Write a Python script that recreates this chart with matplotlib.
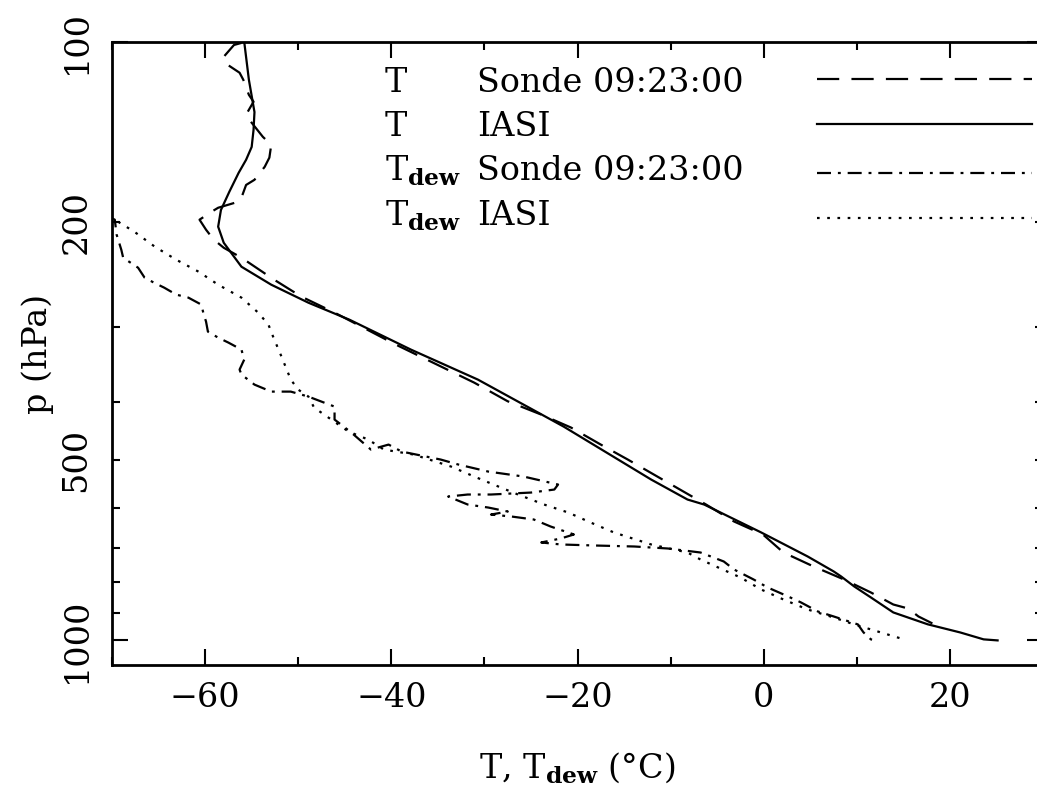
import numpy as np
import matplotlib
matplotlib.use('Agg')
import matplotlib.pyplot as plt
from matplotlib.ticker import LogLocator, FuncFormatter, MultipleLocator

# temperature, sonde (dashed)
t_sonde = [-56.1, -56.9, -58.0, -57.9, -56.3, -55.9, -55.3, -54.8, -55.6, -55.0,
           -53.8, -52.9, -53.1, -53.6, -54.7, -55.6, -56.1, -56.4, -58.6, -59.3,
           -60.6, -59.9, -59.1, -58.0, -56.1, -52.6, -49.7, -46.1, -39.5, -31.1,
           -27.5, -23.9, -20.7, -17.5, -14.6, -10.5, -6.2, -3.2, -0.1, 2.1,
           5.3, 8.6, 11.5, 13.9, 15.5, 16.6, 18.1]
p_sonde = [100.4, 101.2, 105.9, 108.4, 112.6, 115.7, 122.6, 125.9, 132.3, 136.5,
           144.1, 148.6, 156.1, 161.7, 170.0, 173.4, 182.1, 184.9, 189.3, 192.2,
           198.2, 206.0, 213.8, 220.8, 229.4, 249.6, 266.3, 283.4, 320.6, 371.0,
           398.6, 419.5, 441.0, 470.9, 498.8, 542.8, 593.0, 632.9, 665.3, 713.0,
           752.0, 791.0, 831.7, 871.0, 884.6, 912.0, 936.8]

# temperature, IASI (solid)
t_iasi = [-55.8, -55.3, -54.7, -54.8, -55.0, -55.6, -56.4, -57.4, -58.3, -58.6,
          -58.0, -56.1, -52.9, -48.9, -44.5, -37.9, -30.7, -21.5, -12.1, -8.2,
          -6.4, -0.3, 4.7, 7.5, 8.3, 9.7, 11.5, 13.9, 17.6, 21.1,
          23.6, 25.1]
p_iasi = [100.0, 115.7, 131.0, 140.3, 149.8, 157.4, 165.5, 178.0, 190.9, 203.6,
          216.6, 237.5, 254.5, 272.8, 291.2, 326.7, 366.7, 439.3, 538.6, 581.6,
          593.0, 660.0, 724.0, 767.0, 782.0, 812.5, 847.8, 898.0, 940.0, 970.0,
          996.0, 1000.0]

# dew point, sonde (dash-dot)
td_sonde = [-70.3, -69.7, -69.5, -69.0, -68.8, -67.7, -67.2, -66.5, -65.5, -64.4,
            -63.1, -61.8, -60.4, -60.2, -59.9, -59.7, -58.6, -57.5, -56.1, -55.8,
            -56.3, -56.1, -54.7, -52.9, -50.8, -48.9, -46.1, -46.1, -44.3, -42.2,
            -40.3, -38.9, -34.7, -32.8, -29.6, -25.8, -22.1, -22.5, -25.0, -29.3,
            -31.8, -33.9, -31.8, -29.6, -27.5, -29.3, -27.1, -24.7, -22.9, -20.4,
            -21.8, -23.9, -21.8, -18.2, -13.9, -10.3, -6.8, -4.3, -3.2, -1.1,
            0.4, 2.6, 4.0, 5.8, 7.5, 10.1, 10.7, 11.5, 12.2]
pd_sonde = [196.0, 198.2, 210.0, 222.5, 229.4, 235.6, 238.4, 247.7, 252.5, 257.4,
            264.4, 267.5, 274.8, 283.4, 293.4, 304.9, 312.0, 318.0, 326.7, 339.5,
            352.8, 359.6, 373.8, 384.0, 384.0, 391.5, 406.8, 427.6, 449.5, 479.9,
            470.8, 483.6, 498.7, 508.4, 522.3, 532.4, 549.0, 559.7, 566.2, 570.5,
            570.5, 575.0, 592.9, 599.8, 609.1, 616.2, 620.9, 628.1, 645.2, 665.3,
            675.6, 686.1, 691.4, 694.1, 696.8, 702.2, 713.1, 738.2, 761.3, 791.1,
            815.7, 844.4, 864.3, 894.7, 912.0, 940.4, 969.6, 996.2, 1000.0]

# dew point, IASI (dotted)
td_iasi = [-70.3, -69.7, -67.6, -65.4, -63.1, -60.7, -58.6, -56.1, -54.3, -53.2,
           -52.7, -51.8, -50.8, -50.0, -48.9, -48.3, -44.6, -42.5, -40.8, -37.6,
           -33.6, -31.1, -28.5, -26.4, -23.6, -21.0, -18.6, -16.1, -12.1, -8.2,
           -6.8, -4.9, -2.5, -0.3, 2.1, 4.7, 7.5, 9.7, 12.2, 14.7, 15.2]
pd_iasi = [196.0, 198.2, 207.6, 219.9, 231.2, 242.1, 254.5, 267.5, 283.4, 296.8,
           310.8, 335.6, 366.7, 381.1, 391.5, 408.3, 447.8, 461.7, 479.9, 489.2,
           512.3, 532.4, 553.3, 570.5, 592.9, 611.5, 635.4, 660.2, 691.4, 713.1,
           732.6, 755.4, 785.1, 822.0, 854.3, 887.8, 915.6, 940.4, 966.0, 992.4, 996.2]

legend_sym = ['T', 'T', r'T$_{\mathbf{dew}}$', r'T$_{\mathbf{dew}}$']
legend_src = ['Sonde 09:23:00', 'IASI', 'Sonde 09:23:00', 'IASI']

plt.rcParams['font.family'] = 'DejaVu Serif'
plt.rcParams['mathtext.fontset'] = 'dejavuserif'
plt.rcParams['font.size'] = 24

fig = plt.figure(figsize=(10.37, 7.90), dpi=100)
ax = fig.add_axes([0.108, 0.158, 0.898, 0.789])

lw = 1.6
styles = [dict(dashes=(10, 5.5)), dict(linestyle='-'),
          dict(dashes=(6.3, 3.1, 1.3, 3.1)), dict(dashes=(1.2, 3.4))]
series = [(t_sonde, p_sonde), (t_iasi, p_iasi), (td_sonde, pd_sonde), (td_iasi, pd_iasi)]
for (t, p), st in zip(series, styles):
    ax.plot(t, p, color='black', lw=lw, **st)

ax.set_yscale('log')
ax.set_xlim(-70, 30)
ax.set_ylim(1100, 100)

ax.xaxis.set_major_locator(MultipleLocator(20))
ax.xaxis.set_minor_locator(MultipleLocator(10))
ax.yaxis.set_major_locator(LogLocator(base=10))
ax.yaxis.set_minor_locator(LogLocator(base=10, subs=np.arange(2, 10)))
ax.yaxis.set_major_formatter(FuncFormatter(lambda v, pos: '%g' % v))
ax.yaxis.set_minor_formatter(FuncFormatter(
    lambda v, pos: '%g' % v if round(v) in (200, 500) else ''))

ax.tick_params(which='both', direction='in', top=True, right=True, width=1.5)
ax.tick_params(which='major', length=11.5)
ax.tick_params(which='minor', length=5.8)
ax.tick_params(axis='x', which='both', pad=12)
ax.tick_params(axis='y', which='both', pad=14, labelrotation=90)
for lab in ax.get_yticklabels() + ax.get_yticklabels(minor=True):
    lab.set_va('center')
for s in ax.spines.values():
    s.set_linewidth(2)

ax.set_xlabel(r'T, T$_{\mathbf{dew}}$ (°C)', labelpad=26)
ax.set_ylabel('p (hPa)', labelpad=5)

# legend drawn by hand: symbol column, source column, line sample
rows_y = [0.920, 0.849, 0.778, 0.706]
line_y = [0.941, 0.869, 0.790, 0.717]
for i in range(4):
    ax.text(0.293, rows_y[i], legend_sym[i], transform=ax.transAxes, va='baseline')
    ax.text(0.392, rows_y[i], legend_src[i], transform=ax.transAxes, va='baseline')
    ax.plot([0.757, 0.988], [line_y[i], line_y[i]], transform=ax.transAxes,
            color='black', lw=lw, clip_on=False, **styles[i])

fig.savefig('out.png', dpi=100)
